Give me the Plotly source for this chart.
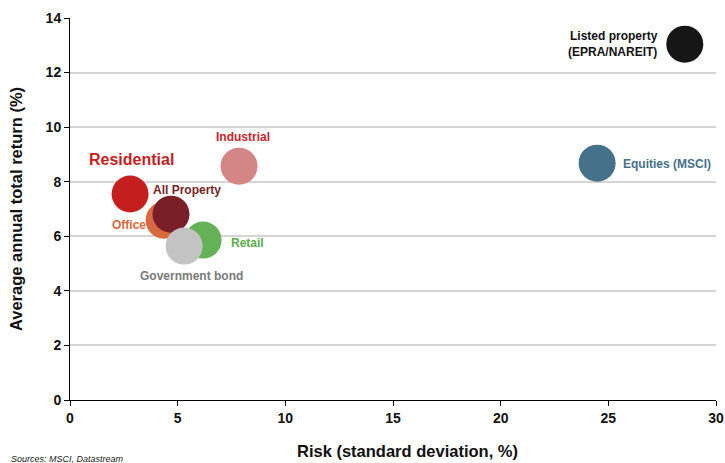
import plotly.graph_objects as go

names = ["Listed property<br>(EPRA/NAREIT)", "Equities (MSCI)", "Industrial", "Residential",
         "Office", "All Property", "Retail", "Government bond"]
risk = [28.55, 24.48, 7.85, 2.79, 4.37, 4.69, 6.18, 5.30]
ret = [13.04, 8.68, 8.57, 7.55, 6.59, 6.81, 5.86, 5.64]
bubble_colors = ["#161616", "#46718a", "#d48686", "#c41e1e", "#d9693e", "#781f27", "#64b157", "#c3c3c3"]
label_colors = ["#111111", "#46718a", "#c4262e", "#c41e1e", "#d9693e", "#781f27", "#5aad4d", "#7a7a7a"]
label_sizes = [12, 12, 12, 16, 12, 12, 12, 12]
label_shift_x = [-72, 70, 4, 1, -35, 16, 44, 7]
label_shift_y = [0, -1, 29, 34, -5, 24, -3, -30]
x_ticks = [0, 5, 10, 15, 20, 25, 30]
y_ticks = [0, 2, 4, 6, 8, 10, 12, 14]

fig = go.Figure()
for i in range(len(names)):
    fig.add_trace(go.Scatter(
        x=[risk[i]], y=[ret[i]], mode="markers",
        marker=dict(size=37, color=bubble_colors[i], line=dict(width=0), opacity=1),
        showlegend=False, hoverinfo="skip"))
    fig.add_annotation(x=risk[i], y=ret[i], text="<b>" + names[i] + "</b>",
                       showarrow=False, xshift=label_shift_x[i], yshift=label_shift_y[i],
                       align="right" if i == 0 else "center",
                       font=dict(family="Liberation Sans, Arial", size=label_sizes[i], color=label_colors[i]))

fig.add_annotation(xref="paper", yref="paper", x=-0.094, y=-0.155, xanchor="left", yanchor="middle",
                   text="<i>Sources: MSCI, Datastream</i>", showarrow=False,
                   font=dict(family="Liberation Sans, Arial", size=9, color="#222222"))
fig.add_annotation(xref="paper", yref="paper", x=0.523, y=-0.1335, xanchor="center", yanchor="middle",
                   text="<b>Risk (standard deviation, %)</b>", showarrow=False,
                   font=dict(family="Liberation Sans, Arial", size=16.5, color="#111111"))

fig.update_layout(
    width=725, height=463,
    margin=dict(l=70, r=9, t=18, b=63),
    plot_bgcolor="white", paper_bgcolor="white",
    font=dict(family="Liberation Sans, Arial", color="#111111"),
    xaxis=dict(range=[0, 30], tickvals=x_ticks, ticktext=["<b>%d</b>" % v for v in x_ticks],
               showgrid=False, zeroline=False, showline=True, linecolor="black", linewidth=1,
               ticks="outside", ticklen=5, tickcolor="black", tickfont=dict(size=14), automargin=False),
    yaxis=dict(range=[0, 14], tickvals=y_ticks, ticktext=["<b>%d</b>" % v for v in y_ticks],
               showgrid=True, gridcolor="#d4d4d4", gridwidth=1.5, zeroline=False,
               showline=True, linecolor="black", linewidth=1, automargin=False,
               ticks="outside", ticklen=5, tickcolor="black", tickfont=dict(size=14),
               title=dict(text="<b>Average annual total return (%)</b>", font=dict(size=16.5), standoff=18)),
)

fig.write_html("out.html")
